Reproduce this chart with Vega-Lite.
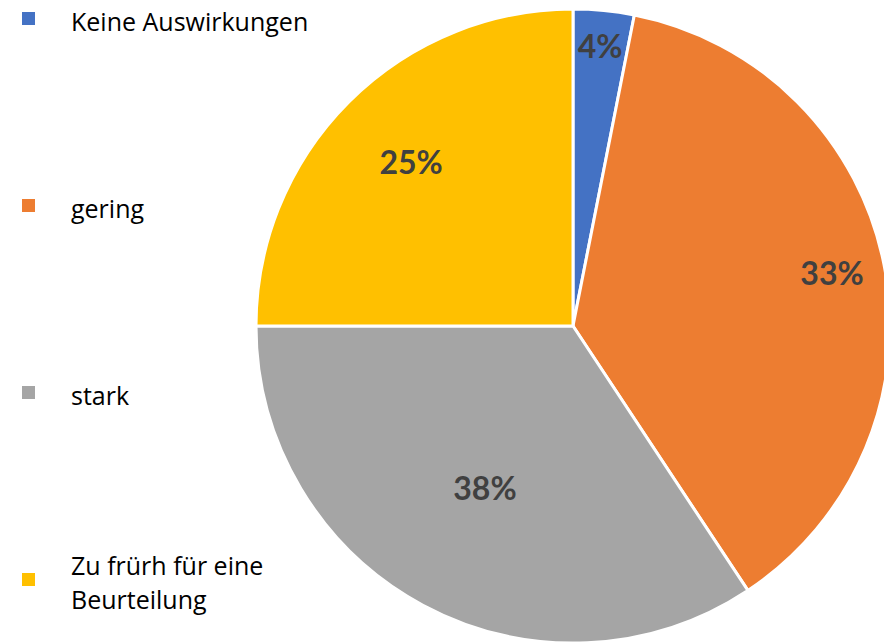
{
  "$schema": "https://vega.github.io/schema/vega-lite/v6.json",
  "width": 634,
  "height": 634,
  "autosize": {"type": "none"},
  "padding": {"left": 256, "top": 9, "right": 0, "bottom": 0},
  "background": "white",
  "view": {"stroke": null},
  "config": {"style": {"guide-label": {"lineHeight": 17}}},
  "data": {
    "values": [
      {"ord": 1, "kategorie": "Keine Auswirkungen", "anteil": 3.1, "label": "4%"},
      {"ord": 2, "kategorie": "gering", "anteil": 37.6, "label": "33%"},
      {"ord": 3, "kategorie": "stark", "anteil": 34.3, "label": "38%"},
      {"ord": 4, "kategorie": "Zu frürh für eine Beurteilung", "anteil": 25.0, "label": "25%"}
    ]
  },
  "encoding": {
    "theta": {"field": "anteil", "type": "quantitative", "stack": true},
    "order": {"field": "ord", "type": "quantitative"}
  },
  "layer": [
    {
      "mark": {"type": "arc", "stroke": "white", "strokeWidth": 3},
      "encoding": {
        "color": {
          "field": "kategorie",
          "type": "nominal",
          "sort": null,
          "scale": {
            "domain": ["Keine Auswirkungen", "gering", "stark", "Zu frürh für eine Beurteilung"],
            "range": ["#4472C4", "#ED7D31", "#A5A5A5", "#FFC000"]
          },
          "legend": {
            "title": null,
            "orient": "none",
            "legendX": -240,
            "legendY": -3,
            "padding": 0,
            "symbolType": "square",
            "symbolSize": 169,
            "symbolStrokeWidth": 0,
            "labelFont": "Open Sans",
            "labelFontSize": 25,
            "labelColor": "#000000",
            "labelBaseline": "bottom",
            "labelOffset": 30,
            "labelLimit": 400,
            "rowPadding": 144,
            "labelExpr": "datum.label == 'Zu frürh für eine Beurteilung' ? ['Zu frürh für eine', '\u200b', 'Beurteilung'] : ['', datum.label]"
          }
        }
      }
    },
    {
      "mark": {
        "type": "text",
        "radius": {"expr": "datum.ord == 1 ? 279 : datum.ord == 2 ? 264 : datum.ord == 3 ? 186 : 229"},
        "font": "Lato",
        "fontWeight": "bold",
        "fontSize": 32,
        "color": "#404040"
      },
      "encoding": {
        "text": {"field": "label", "type": "nominal"}
      }
    }
  ]
}
